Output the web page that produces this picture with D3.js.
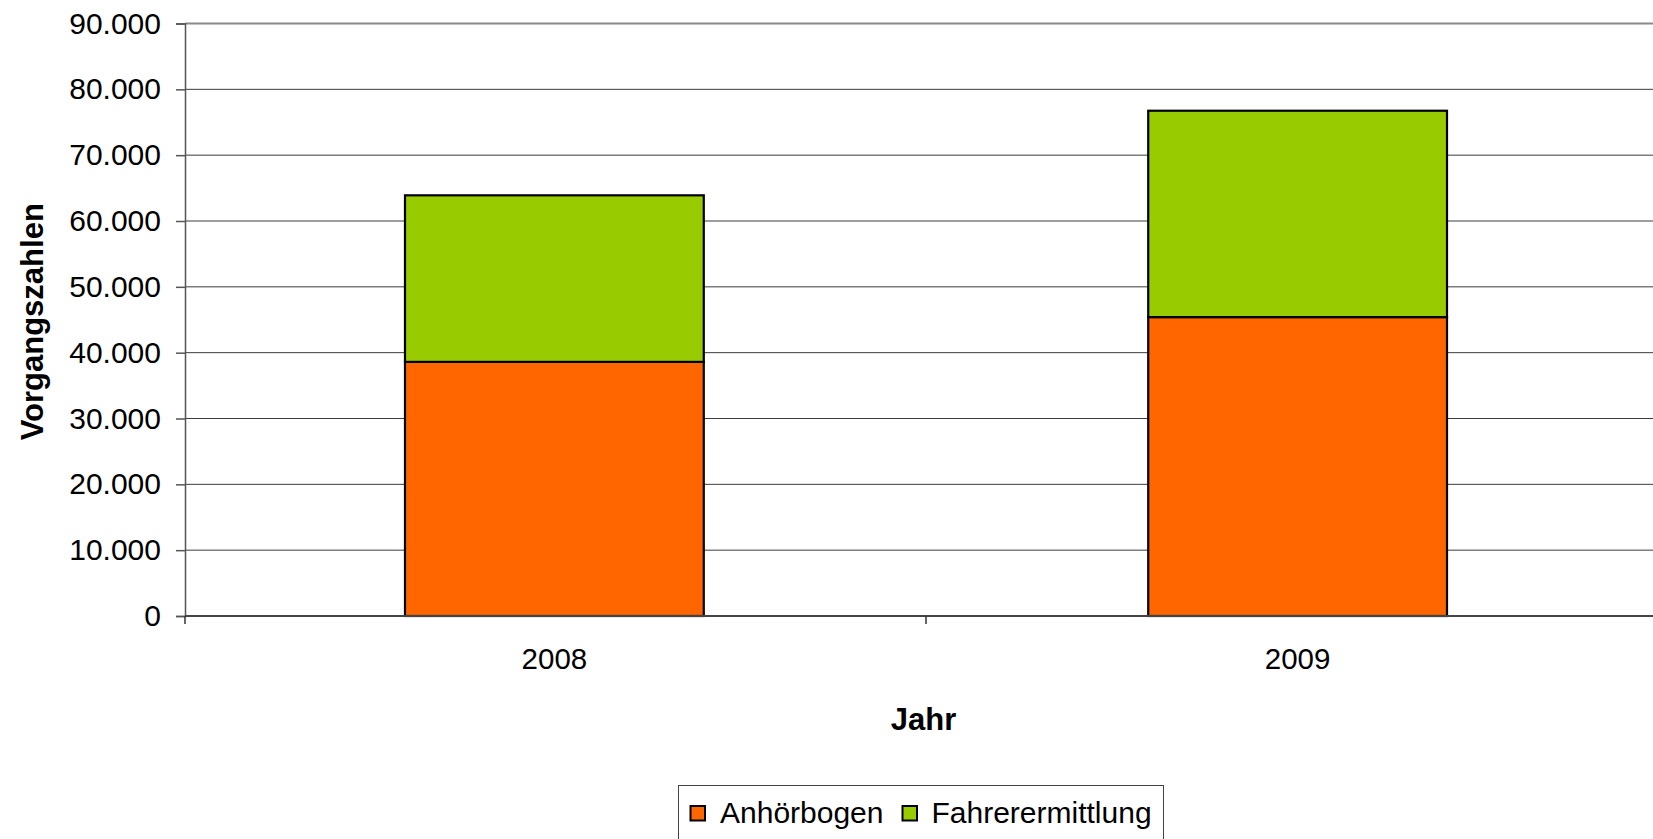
<!DOCTYPE html>
<html>
<head>
<meta charset="utf-8">
<script src="https://cdn.jsdelivr.net/npm/d3@7"></script>
<style>
  body { margin: 0; background: #fff; }
  svg { display: block; font-family: Arial, "Liberation Sans", sans-serif; }
</style>
</head>
<body>
<script>
const width = 1653;
const height = 839;

// data
const years = ["2008", "2009"];
const anhoerbogen = [38600, 45400];
const fahrerermittlung = [25300, 31350];
const seriesNames = ["Anhörbogen", "Fahrerermittlung"];
const seriesColors = ["#ff6600", "#99cc00"];
const yTicks = [0, 10000, 20000, 30000, 40000, 50000, 60000, 70000, 80000, 90000];

const margin = {left: 185, top: 23.5, bottom: 616, right: 1667}; // plot runs past the right edge

const de = d3.formatLocale({decimal: ",", thousands: ".", grouping: [3], currency: ["", " €"]});
const fmt = de.format(",d");

const svg = d3.select("body").append("svg")
    .attr("width", width)
    .attr("height", height);

const x = d3.scaleBand()
    .domain(years)
    .range([margin.left, margin.right])
    .paddingInner(0.598)
    .paddingOuter(0.296);

const xCat = d3.scaleBand().domain(years).range([margin.left, margin.right]);

const y = d3.scaleLinear()
    .domain([0, 90000])
    .range([margin.bottom, margin.top]);

// gridlines
svg.append("g")
  .selectAll("line")
  .data(yTicks.filter(d => d > 0 && d < 90000))
  .enter().append("line")
    .attr("x1", margin.left).attr("x2", width)
    .attr("y1", d => y(d)).attr("y2", d => y(d))
    .attr("stroke", "#3c3c3c")
    .attr("stroke-width", 1);

// top border of plot area
svg.append("line")
  .attr("x1", margin.left).attr("x2", width)
  .attr("y1", y(90000)).attr("y2", y(90000))
  .attr("stroke", "#8a8a8a")
  .attr("stroke-width", 2);

// stacked bars
const stackData = years.map((yr, i) => ({year: yr, Anhörbogen: anhoerbogen[i], Fahrerermittlung: fahrerermittlung[i]}));
const stacked = d3.stack().keys(seriesNames)(stackData);

svg.append("g")
  .selectAll("g")
  .data(stacked)
  .enter().append("g")
    .attr("fill", (d, i) => seriesColors[i])
  .selectAll("rect")
  .data(d => d)
  .enter().append("rect")
    .attr("x", d => x(d.data.year))
    .attr("width", x.bandwidth())
    .attr("y", d => y(d[1]))
    .attr("height", d => y(d[0]) - y(d[1]))
    .attr("stroke", "#000")
    .attr("stroke-width", 2.2);

// y axis
const yAxis = svg.append("g")
  .attr("transform", "translate(" + margin.left + ",0)")
  .call(d3.axisLeft(y).tickValues(yTicks).tickFormat(fmt).tickSize(9).tickPadding(15));
yAxis.select(".domain").attr("stroke", "#555").attr("stroke-width", 1.5);
yAxis.selectAll(".tick line").attr("stroke", "#555").attr("stroke-width", 1.5);
yAxis.selectAll("text")
  .attr("font-size", 30)
  .attr("font-family", "Arial, 'Liberation Sans', sans-serif")
  .attr("fill", "#000");

// x axis
svg.append("line")
  .attr("x1", margin.left).attr("x2", width)
  .attr("y1", y(0)).attr("y2", y(0))
  .attr("stroke", "#444")
  .attr("stroke-width", 2.2);

const xTickPos = [margin.left].concat(years.map(d => xCat(d) + xCat.bandwidth()));
svg.append("g")
  .selectAll("line")
  .data(xTickPos)
  .enter().append("line")
    .attr("x1", d => d).attr("x2", d => d)
    .attr("y1", y(0)).attr("y2", y(0) + 8)
    .attr("stroke", "#333")
    .attr("stroke-width", 1.5);

svg.append("g")
  .selectAll("text")
  .data(years)
  .enter().append("text")
    .attr("x", d => x(d) + x.bandwidth() / 2)
    .attr("y", 669)
    .attr("text-anchor", "middle")
    .attr("font-size", 29.5)
    .text(d => d);

// axis titles
svg.append("text")
  .attr("x", 923.5)
  .attr("y", 730)
  .attr("text-anchor", "middle")
  .attr("font-size", 31)
  .attr("font-weight", "bold")
  .text("Jahr");

svg.append("text")
  .attr("transform", "translate(43," + ((margin.top + margin.bottom) / 2 + 2) + ") rotate(-90)")
  .attr("text-anchor", "middle")
  .attr("font-size", 31)
  .attr("font-weight", "bold")
  .text("Vorgangszahlen");

// legend
const legend = svg.append("g").attr("transform", "translate(678.5,785.5)");
legend.append("rect")
  .attr("width", 485)
  .attr("height", 56)
  .attr("fill", "#fff")
  .attr("stroke", "#444")
  .attr("stroke-width", 1);

const itemX = [12, 224];
const textX = [41.5, 253];
seriesNames.forEach(function(name, i) {
  legend.append("rect")
    .attr("x", itemX[i])
    .attr("y", 20.5)
    .attr("width", 14.5)
    .attr("height", 14.5)
    .attr("fill", seriesColors[i])
    .attr("stroke", "#000")
    .attr("stroke-width", 2);
  legend.append("text")
    .attr("x", textX[i])
    .attr("y", 37)
    .attr("font-size", 30)
    .text(name);
});
</script>
</body>
</html>
